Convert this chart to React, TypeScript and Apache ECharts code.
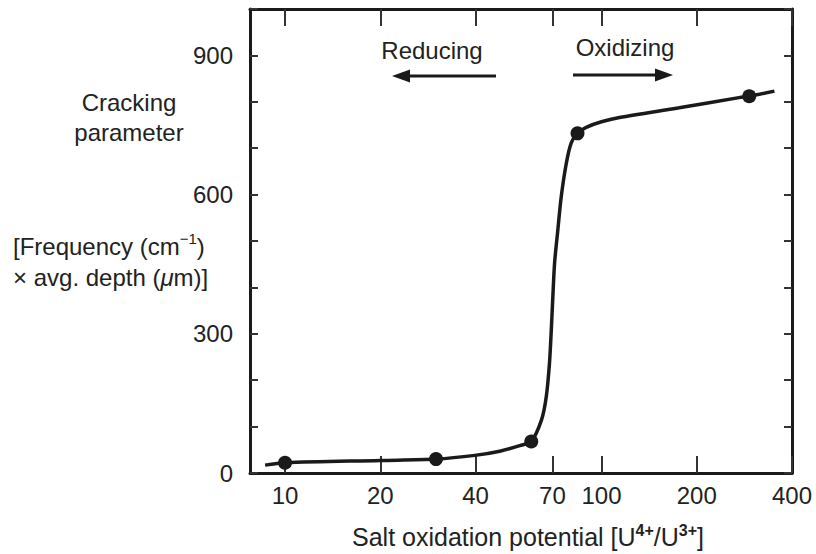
import React, { useEffect, useRef } from "react";
import * as echarts from "echarts";

// Salt oxidation potential [U4+/U3+] (log axis) vs cracking parameter
const xMin = 7.75;
const xMax = 400;
const xTickValues = [10, 20, 40, 70, 100, 200, 400];
const yLabelValues = [0, 300, 600, 900];

// traced curve
const curveX = [8.65, 10, 20, 30, 39.8, 47.7, 55.2, 60.0, 64.6, 66.9, 68.5, 69.4, 70.2, 71.1, 72.8, 74.6, 77.4, 80.2, 83.8, 89.5, 100, 114, 176, 272, 293, 352];
const curveY = [17, 22, 27, 30, 38, 47, 59, 68, 114, 164, 237, 308, 380, 453, 524, 595, 667, 711, 732, 745, 757, 766, 787, 809, 812, 823];

// measured points
const pointX = [10, 30, 60, 84, 293];
const pointY = [22, 30, 68, 732, 812];

const FONT = "'Liberation Sans', Arial, sans-serif";
const INK = "#1a1a1a";
const TXT = "#222";

export default function App() {
  const ref = useRef<HTMLDivElement>(null);
  useEffect(() => {
    if (!ref.current) return;
    const chart = echarts.init(ref.current, null, { renderer: "svg" });
    const lx = (v: number) => Math.log10(v);
    const xTicks = xTickValues.map(lx);
    const baseX = {
      type: "value" as const,
      min: lx(xMin),
      max: lx(xMax),
      splitLine: { show: false },
      axisLine: { show: true, onZero: false, lineStyle: { color: INK, width: 3 } },
      axisTick: { show: true, inside: true, length: 17, customValues: xTicks, lineStyle: { color: "#333", width: 2 } },
    };
    const baseY = {
      type: "value" as const,
      min: 0,
      max: 1000,
      interval: 100,
      splitLine: { show: false },
      axisLine: { show: true, onZero: false, lineStyle: { color: INK, width: 3 } },
      axisTick: { show: true, inside: true, length: 8, lineStyle: { color: "#333", width: 2 } },
    };
    const option: any = {
      animation: false,
      backgroundColor: "#fff",
      grid: { left: 250, right: 24, top: 9, bottom: 81 },
      xAxis: [
        {
          ...baseX,
          position: "bottom",
          axisLabel: {
            customValues: xTicks,
            formatter: (v: number) => String(Math.round(Math.pow(10, v))),
            fontSize: 24,
            color: TXT,
            fontFamily: FONT,
            margin: 10,
          },
        },
        { ...baseX, position: "top", axisLabel: { show: false } },
      ],
      yAxis: [
        {
          ...baseY,
          position: "left",
          axisLabel: { customValues: yLabelValues, fontSize: 24, color: TXT, fontFamily: FONT, margin: 17 },
        },
        { ...baseY, position: "right", axisLabel: { show: false } },
      ],
      series: [
        {
          type: "line",
          data: curveX.map((x, i) => [lx(x), curveY[i]]),
          showSymbol: false,
          smooth: 0.3,
          lineStyle: { color: INK, width: 3.5 },
          silent: true,
          z: 3,
        },
        {
          type: "scatter",
          data: pointX.map((x, i) => [lx(x), pointY[i]]),
          symbolSize: 14,
          itemStyle: { color: INK, opacity: 1 },
          z: 4,
        },
      ],
      graphic: [
        {
          type: "text",
          x: 129,
          y: 117,
          style: {
            text: "Cracking\nparameter",
            font: `24px ${FONT}`,
            fill: TXT,
            align: "center",
            verticalAlign: "middle",
            lineHeight: 30,
          },
        },
        {
          type: "text",
          x: 13,
          y: 262,
          style: {
            text: "{a|[Frequency (cm}{s|−1}{a|)}\n{a|× avg. depth (}{i|μ}{a|m)]}",
            fill: TXT,
            align: "left",
            verticalAlign: "middle",
            rich: {
              a: { fontSize: 24, fontFamily: FONT, lineHeight: 31, fill: TXT },
              i: { fontSize: 24, fontFamily: FONT, fontStyle: "italic", lineHeight: 31, fill: TXT },
              s: { fontSize: 15, fontFamily: FONT, lineHeight: 15, verticalAlign: "top", fill: TXT },
            },
          },
        },
        {
          type: "text",
          x: 528,
          y: 537,
          style: {
            text: "{a|Salt oxidation potential [U}{s|4+}{a|/U}{s|3+}{a|]}",
            fill: TXT,
            align: "center",
            verticalAlign: "middle",
            rich: {
              a: { fontSize: 25, fontFamily: FONT, lineHeight: 30, fill: TXT },
              s: { fontSize: 16, fontFamily: FONT, fontWeight: "bold", lineHeight: 14, verticalAlign: "top", fill: TXT },
            },
          },
        },
        {
          type: "text",
          x: 432,
          y: 50,
          style: { text: "Reducing", font: `24px ${FONT}`, fill: TXT, align: "center", verticalAlign: "middle" },
        },
        {
          type: "text",
          x: 625,
          y: 47,
          style: { text: "Oxidizing", font: `24px ${FONT}`, fill: TXT, align: "center", verticalAlign: "middle" },
        },
        { type: "line", shape: { x1: 405, y1: 76, x2: 496, y2: 76 }, style: { stroke: INK, lineWidth: 3 } },
        { type: "polygon", shape: { points: [[392, 76], [410, 69.5], [410, 82.5]] }, style: { fill: INK } },
        { type: "line", shape: { x1: 573, y1: 75, x2: 660, y2: 75 }, style: { stroke: INK, lineWidth: 3 } },
        { type: "polygon", shape: { points: [[673, 75], [655, 68.5], [655, 81.5]] }, style: { fill: INK } },
      ],
    };
    chart.setOption(option);
    return () => chart.dispose();
  }, []);
  return (
    <div
      ref={ref}
      style={{ position: "fixed", left: 0, top: 0, width: 816, height: 554, background: "#fff" }}
    />
  );
}
